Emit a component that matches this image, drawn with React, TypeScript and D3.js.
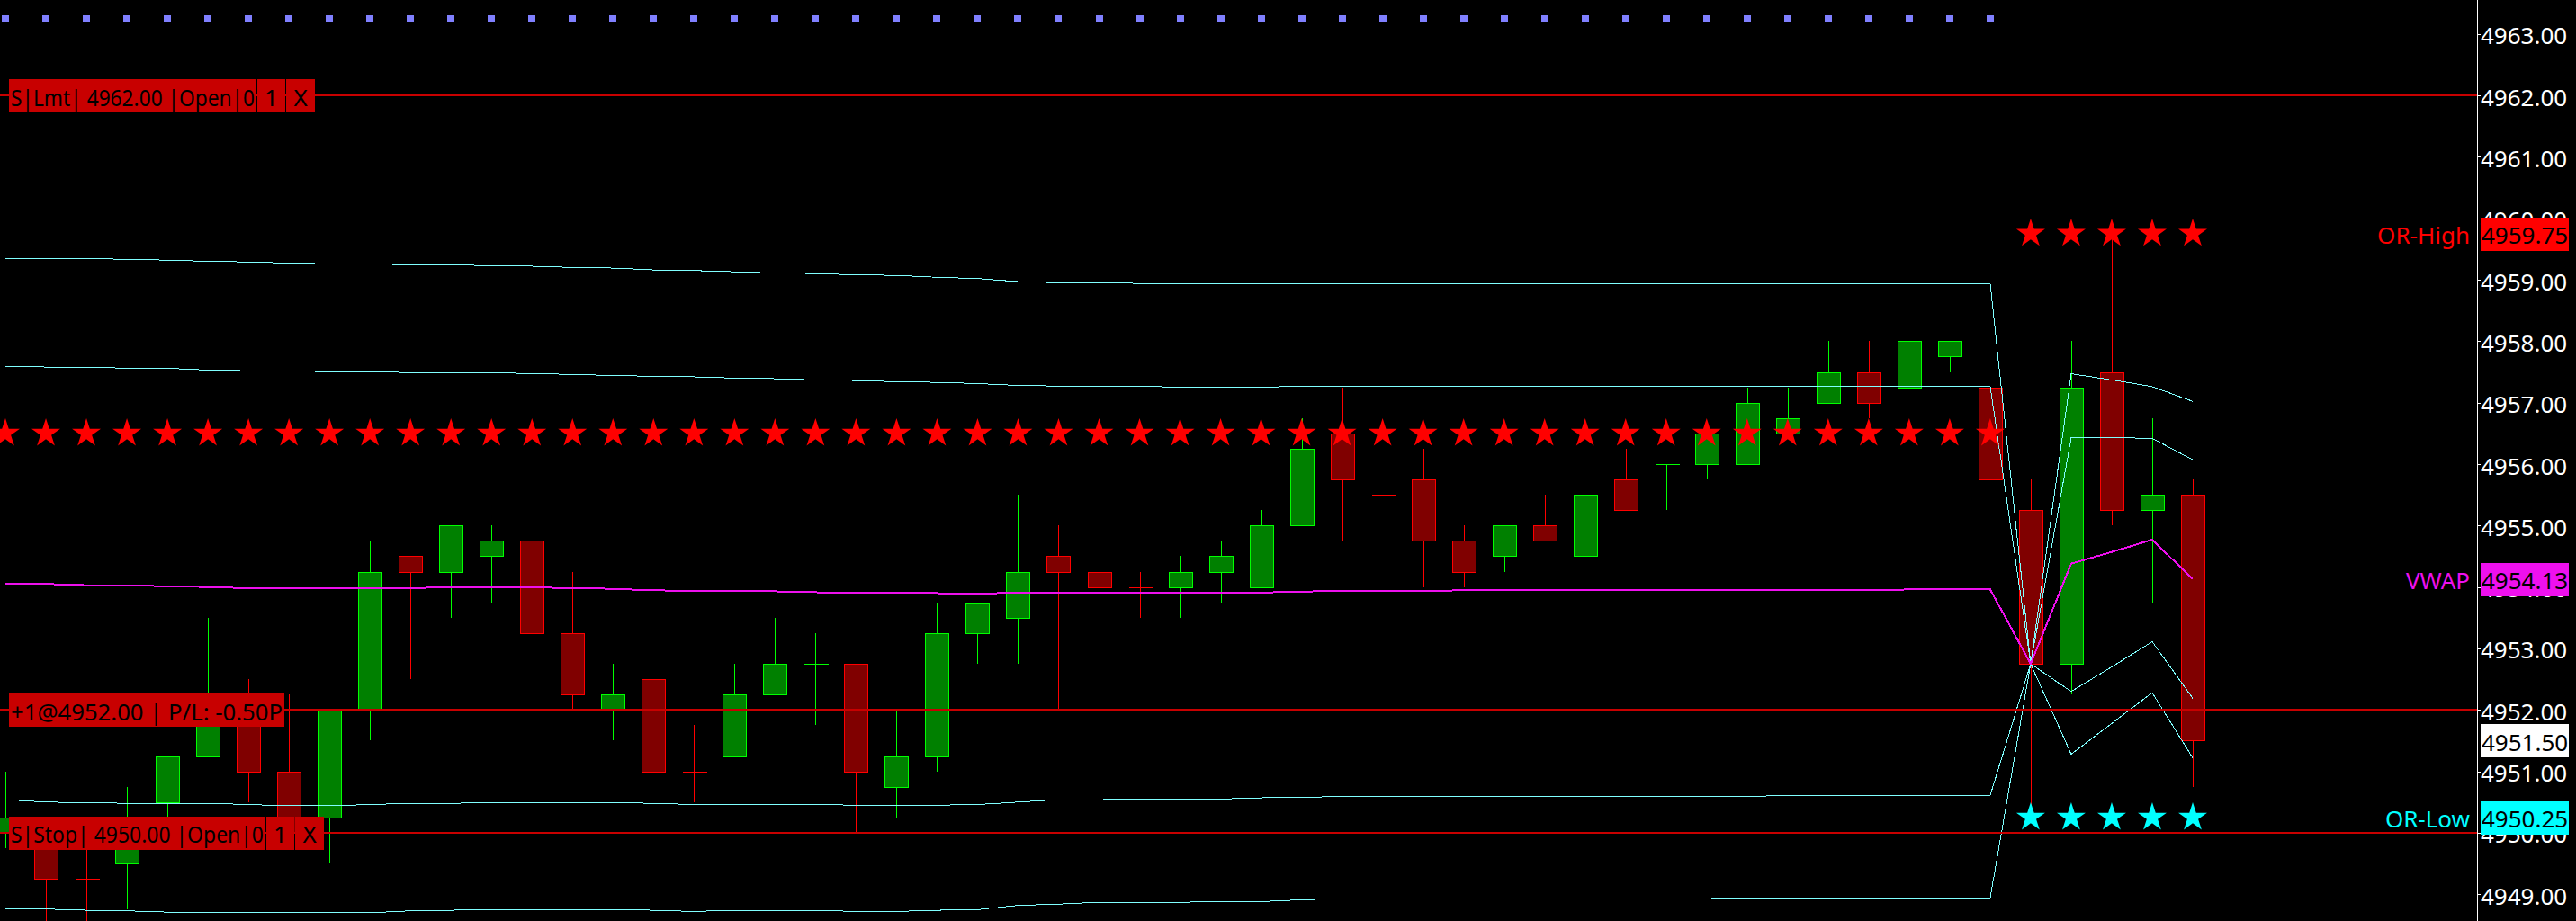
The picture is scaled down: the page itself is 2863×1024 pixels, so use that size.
import React, { useEffect } from 'react';
import * as d3 from 'd3';

const W = 2863;
const H = 1024;

// ---------- data ----------
const opens = [4950.00, 4950.00, 4949.25, 4949.50, 4950.50, 4951.25, 4952.25, 4951.00, 4950.25, 4952.00,
  4954.50, 4954.25, 4954.50, 4954.75, 4953.25, 4952.00, 4952.50, 4951.00, 4951.25, 4952.25,
  4952.75, 4952.75, 4950.75, 4951.25, 4953.25, 4953.50, 4954.50, 4954.25, 4954.00, 4954.00,
  4954.25, 4954.00, 4955.00, 4956.50, 4955.50, 4955.75, 4954.75, 4954.50, 4955.00, 4954.50,
  4955.75, 4956.00, 4956.00, 4956.00, 4956.50, 4957.00, 4957.50, 4957.25, 4957.75, 4957.25,
  4955.25, 4952.75, 4957.50, 4955.25, 4955.50];
const highs = [4951.00, 4950.25, 4950.00, 4950.75, 4951.25, 4953.50, 4952.50, 4952.25, 4952.00, 4954.75,
  4954.50, 4955.00, 4955.00, 4954.75, 4954.25, 4952.75, 4952.50, 4951.75, 4952.75, 4953.50,
  4953.25, 4952.75, 4952.00, 4953.75, 4953.75, 4955.50, 4955.00, 4954.75, 4954.25, 4954.50,
  4954.75, 4955.25, 4956.75, 4957.25, 4955.50, 4956.25, 4955.00, 4955.00, 4955.50, 4955.50,
  4956.25, 4956.00, 4956.50, 4957.25, 4957.25, 4958.00, 4958.00, 4958.00, 4958.00, 4957.25,
  4955.75, 4958.00, 4959.75, 4956.75, 4955.75];
const lows = [4949.75, 4948.25, 4948.25, 4948.75, 4950.00, 4951.25, 4950.50, 4949.75, 4949.50, 4951.50,
  4952.50, 4953.50, 4953.75, 4953.25, 4952.00, 4951.50, 4951.00, 4950.50, 4951.25, 4952.25,
  4951.75, 4950.00, 4950.25, 4951.00, 4952.75, 4952.75, 4952.00, 4953.50, 4953.50, 4953.50,
  4953.75, 4954.00, 4955.00, 4954.75, 4955.50, 4954.00, 4954.00, 4954.25, 4954.75, 4954.50,
  4955.25, 4955.25, 4955.75, 4956.00, 4956.50, 4957.00, 4956.75, 4957.25, 4957.50, 4955.75,
  4950.25, 4952.25, 4955.00, 4953.75, 4950.75];
const closes = [4950.25, 4949.25, 4949.25, 4950.00, 4951.25, 4952.25, 4951.00, 4950.00, 4952.00, 4954.25,
  4954.25, 4955.00, 4954.75, 4953.25, 4952.25, 4952.25, 4951.00, 4951.00, 4952.25, 4952.75,
  4952.75, 4951.00, 4951.25, 4953.25, 4953.75, 4954.25, 4954.25, 4954.00, 4954.00, 4954.25,
  4954.50, 4955.00, 4956.25, 4955.75, 4955.50, 4954.75, 4954.25, 4955.00, 4954.75, 4955.50,
  4955.25, 4956.00, 4956.50, 4957.00, 4956.75, 4957.50, 4957.00, 4958.00, 4958.00, 4955.75,
  4952.75, 4957.25, 4955.25, 4955.50, 4951.50];
// doji bars drawn in the up colour
const dojiUp = [20, 41];

const vwap = [4954.06, 4954.05, 4954.03, 4954.03, 4954.01, 4954.00, 4953.98, 4953.98, 4953.98, 4953.98,
  4953.98, 4954.00, 4954.00, 4953.99, 4953.985, 4953.97, 4953.945, 4953.94, 4953.94, 4953.93,
  4953.915, 4953.90, 4953.90, 4953.90, 4953.89, 4953.91, 4953.91, 4953.91, 4953.91, 4953.91,
  4953.91, 4953.91, 4953.925, 4953.94, 4953.94, 4953.94, 4953.945, 4953.945, 4953.945, 4953.945,
  4953.945, 4953.945, 4953.945, 4953.945, 4953.945, 4953.945, 4953.945, 4953.96, 4953.96, 4953.96,
  4952.75, 4954.38, 4954.57, 4954.77, 4954.13];
const upper2 = [4959.35, 4959.35, 4959.35, 4959.33, 4959.32, 4959.30, 4959.29, 4959.27, 4959.26, 4959.26,
  4959.24, 4959.24, 4959.23, 4959.22, 4959.20, 4959.19, 4959.16, 4959.15, 4959.13, 4959.11,
  4959.10, 4959.08, 4959.07, 4959.04, 4959.02, 4958.97, 4958.95, 4958.95, 4958.94, 4958.94,
  4958.94, 4958.93, 4958.94, 4958.94, 4958.94, 4958.94, 4958.94, 4958.94, 4958.94, 4958.94,
  4958.94, 4958.94, 4958.94, 4958.94, 4958.94, 4958.94, 4958.94, 4958.94, 4958.94, 4958.94,
  4952.75, 4957.47, 4957.37, 4957.26, 4957.02];
const upper1 = [4957.59, 4957.58, 4957.58, 4957.56, 4957.56, 4957.53, 4957.52, 4957.52, 4957.50, 4957.50,
  4957.49, 4957.49, 4957.49, 4957.47, 4957.46, 4957.44, 4957.43, 4957.42, 4957.40, 4957.39,
  4957.37, 4957.36, 4957.34, 4957.33, 4957.31, 4957.28, 4957.27, 4957.27, 4957.27, 4957.25,
  4957.25, 4957.25, 4957.27, 4957.27, 4957.27, 4957.27, 4957.27, 4957.27, 4957.27, 4957.27,
  4957.27, 4957.27, 4957.27, 4957.27, 4957.27, 4957.27, 4957.27, 4957.27, 4957.27, 4957.27,
  4952.75, 4956.43, 4956.43, 4956.42, 4956.07];
const lower1 = [4950.54, 4950.50, 4950.49, 4950.48, 4950.48, 4950.48, 4950.46, 4950.44, 4950.44, 4950.46,
  4950.48, 4950.48, 4950.49, 4950.49, 4950.49, 4950.49, 4950.48, 4950.46, 4950.46, 4950.46,
  4950.46, 4950.45, 4950.45, 4950.45, 4950.46, 4950.50, 4950.54, 4950.54, 4950.55, 4950.55,
  4950.55, 4950.57, 4950.58, 4950.59, 4950.59, 4950.59, 4950.59, 4950.59, 4950.59, 4950.59,
  4950.59, 4950.59, 4950.59, 4950.59, 4950.61, 4950.61, 4950.61, 4950.61, 4950.61, 4950.61,
  4952.75, 4952.30, 4952.70, 4953.11, 4952.19];
const lower2 = [4948.77, 4948.76, 4948.74, 4948.73, 4948.71, 4948.71, 4948.71, 4948.70, 4948.70, 4948.70,
  4948.73, 4948.74, 4948.75, 4948.75, 4948.75, 4948.75, 4948.74, 4948.72, 4948.74, 4948.74,
  4948.74, 4948.72, 4948.72, 4948.74, 4948.75, 4948.82, 4948.84, 4948.87, 4948.87, 4948.87,
  4948.88, 4948.88, 4948.91, 4948.93, 4948.93, 4948.93, 4948.93, 4948.93, 4948.93, 4948.93,
  4948.93, 4948.93, 4948.93, 4948.94, 4948.94, 4948.94, 4948.94, 4948.94, 4948.94, 4948.94,
  4952.75, 4951.28, 4951.78, 4952.28, 4951.22];

const priceTicks = [4949, 4950, 4951, 4952, 4953, 4954, 4955, 4956, 4957, 4958, 4959, 4960, 4961, 4962, 4963];

const sessionStart = 50;
const prevHighLevel = 4956.5;
const orHigh = 4959.75;
const orLow = 4950.25;
const vwapLast = 4954.13;
const lastPrice = 4951.5;

const orders = [
  { price: 4962.0, texts: ['S|Lmt| 4962.00 |Open|0', '1', 'X'] },
  { price: 4952.0, texts: ['+1@4952.00 | P/L: -0.50P'] },
  { price: 4950.0, texts: ['S|Stop| 4950.00 |Open|0', '1', 'X'] },
];

const tags = [
  { label: 'OR-High', value: orHigh, text: '4959.75', kind: 'orh' },
  { label: 'VWAP', value: vwapLast, text: '4954.13', kind: 'vwap' },
  { label: '', value: lastPrice, text: '4951.50', kind: 'last' },
  { label: 'OR-Low', value: orLow, text: '4950.25', kind: 'orl' },
];

// ---------- layout / style ----------
const AXIS_X = 2753;
const FONT = '"Noto Sans", "Open Sans", sans-serif';
const FS = 26;
const orderBoxWidths = [[275, 31, 32], [306], [285, 31, 32]];
const tagColors: Record<string, { bg: string; fg: string }> = {
  orh: { bg: '#FF0000', fg: '#FF0000' },
  vwap: { bg: '#EE10EE', fg: '#EE10EE' },
  last: { bg: '#FFFFFF', fg: '#FFFFFF' },
  orl: { bg: '#00FFFF', fg: '#00FFFF' },
};
const UP_FILL = '#008000';
const UP_LINE = '#00FF00';
const DN_FILL = '#800000';
const DN_LINE = '#FF0000';
const BAND = '#80FFFF';
const ORDER_RED = '#C80000';

export default function App() {
  useEffect(() => {
    document.body.style.margin = '0';
    document.body.style.background = '#000';
  }, []);

  const n = closes.length;
  const x = d3.scaleLinear().domain([0, n - 1]).range([6, 2437]);
  const y = d3.scaleLinear().domain([4949, 4963]).range([994.3, 37.7]);
  const fmt = d3.format('.2f');

  const line = d3.line<number>().x((_, i) => x(i)).y((d) => y(d));
  const star = d3.symbol().type(d3.symbolStar).size(317)() as string;

  const bars = d3.range(n);
  const firstSession = bars.filter((i) => i < sessionStart);
  const secondSession = bars.filter((i) => i >= sessionStart);

  return (
    <svg width={W} height={H} style={{ position: 'absolute', left: 0, top: 0, display: 'block' }}
      fontFamily={FONT}>
      <rect x={0} y={0} width={W} height={H} fill="#000" />

      {/* candles */}
      <g shapeRendering="crispEdges">
        {bars.map((i) => {
          const o = opens[i], c = closes[i], h = highs[i], l = lows[i];
          const up = c > o || (c === o && dojiUp.includes(i));
          const cx = Math.round(x(i)) + 0.5;
          const lineC = up ? UP_LINE : DN_LINE;
          const fillC = up ? UP_FILL : DN_FILL;
          const top = y(Math.max(o, c));
          const bot = y(Math.min(o, c));
          return (
            <g key={i}>
              <line x1={cx} x2={cx} y1={y(h)} y2={y(l)} stroke={lineC} strokeWidth={1} />
              {c === o ? (
                <line x1={cx - 13} x2={cx + 14} y1={Math.round(top) + 0.5} y2={Math.round(top) + 0.5} stroke={lineC} strokeWidth={1} />
              ) : (
                <rect x={cx - 13} y={Math.round(top) + 0.5} width={26} height={Math.max(1, Math.round(bot) - Math.round(top))}
                  fill={fillC} stroke={lineC} strokeWidth={1} />
              )}
            </g>
          );
        })}
      </g>

      {/* VWAP bands */}
      <g fill="none" shapeRendering="crispEdges">
        {[upper2, upper1, lower1, lower2].map((s, k) => (
          <path key={k} d={line(s) as string} stroke={BAND} strokeWidth={1} />
        ))}
        <path d={line(vwap) as string} stroke="#EE10EE" strokeWidth={2} />
      </g>

      {/* order lines */}
      <g shapeRendering="crispEdges">
        {orders.map((o, k) => (
          <line key={k} x1={0} x2={AXIS_X} y1={Math.round(y(o.price))} y2={Math.round(y(o.price))} stroke={ORDER_RED} strokeWidth={2} />
        ))}
      </g>

      {/* stars */}
      <g>
        {firstSession.map((i) => (
          <path key={'p' + i} d={star} transform={`translate(${x(i)},${y(prevHighLevel)})`} fill="#FF0000" />
        ))}
        {secondSession.map((i) => (
          <path key={'h' + i} d={star} transform={`translate(${x(i)},${y(orHigh)})`} fill="#FF0000" />
        ))}
        {secondSession.map((i) => (
          <path key={'l' + i} d={star} transform={`translate(${x(i)},${y(orLow)})`} fill="#00FFFF" />
        ))}
      </g>

      {/* session dots */}
      <g shapeRendering="crispEdges">
        {firstSession.map((i) => (
          <rect key={i} x={Math.round(x(i)) - 4} y={17} width={8} height={8} fill="#8080FF" />
        ))}
      </g>

      {/* order labels */}
      <g>
        {orders.map((o, k) => {
          const cy = y(o.price);
          const widths = orderBoxWidths[k];
          let bx = 10;
          return (
            <g key={k}>
              {o.texts.map((t, j) => {
                const w = widths[j];
                const x0 = bx;
                bx += w + 1;
                return (
                  <g key={j}>
                    <rect x={x0} y={Math.round(cy) - 18} width={w} height={37} fill={ORDER_RED} shapeRendering="crispEdges" />
                    {j === 0 ? (
                      <text x={x0 + 2} y={cy + 11.5} fontSize={FS} fill="#000"
                        textLength={w - 4} lengthAdjust="spacingAndGlyphs">{t}</text>
                    ) : (
                      <text x={x0 + w / 2} y={cy + 11.5} fontSize={FS} textAnchor="middle" fill="#000">{t}</text>
                    )}
                  </g>
                );
              })}
            </g>
          );
        })}
      </g>

      {/* price axis */}
      <rect x={AXIS_X} y={0} width={W - AXIS_X} height={H} fill="#000" />
      <line x1={AXIS_X + 0.5} x2={AXIS_X + 0.5} y1={0} y2={H} stroke="#FFFFFF" strokeWidth={1} shapeRendering="crispEdges" />
      <g>
        {priceTicks.map((p) => (
          <g key={p}>
            <line x1={AXIS_X} x2={AXIS_X + 4} y1={Math.round(y(p)) + 0.5} y2={Math.round(y(p)) + 0.5} stroke="#FFFFFF" shapeRendering="crispEdges" />
            <text x={AXIS_X + 4} y={y(p) + 11.5} fontSize={FS} fill="#FFFFFF">{fmt(p)}</text>
          </g>
        ))}
      </g>

      {/* value tags */}
      <g>
        {tags.map((t) => {
          const cy = y(t.value);
          const col = tagColors[t.kind];
          return (
            <g key={t.kind}>
              <rect x={AXIS_X + 4} y={Math.round(cy) - 18} width={98} height={37} fill={col.bg} shapeRendering="crispEdges" />
              <text x={AXIS_X + 5} y={cy + 11.5} fontSize={FS} fill="#000">{t.text}</text>
              {t.label && (
                <text x={AXIS_X - 8} y={cy + 11.5} fontSize={FS} fill={col.fg} textAnchor="end">{t.label}</text>
              )}
            </g>
          );
        })}
      </g>
    </svg>
  );
}
